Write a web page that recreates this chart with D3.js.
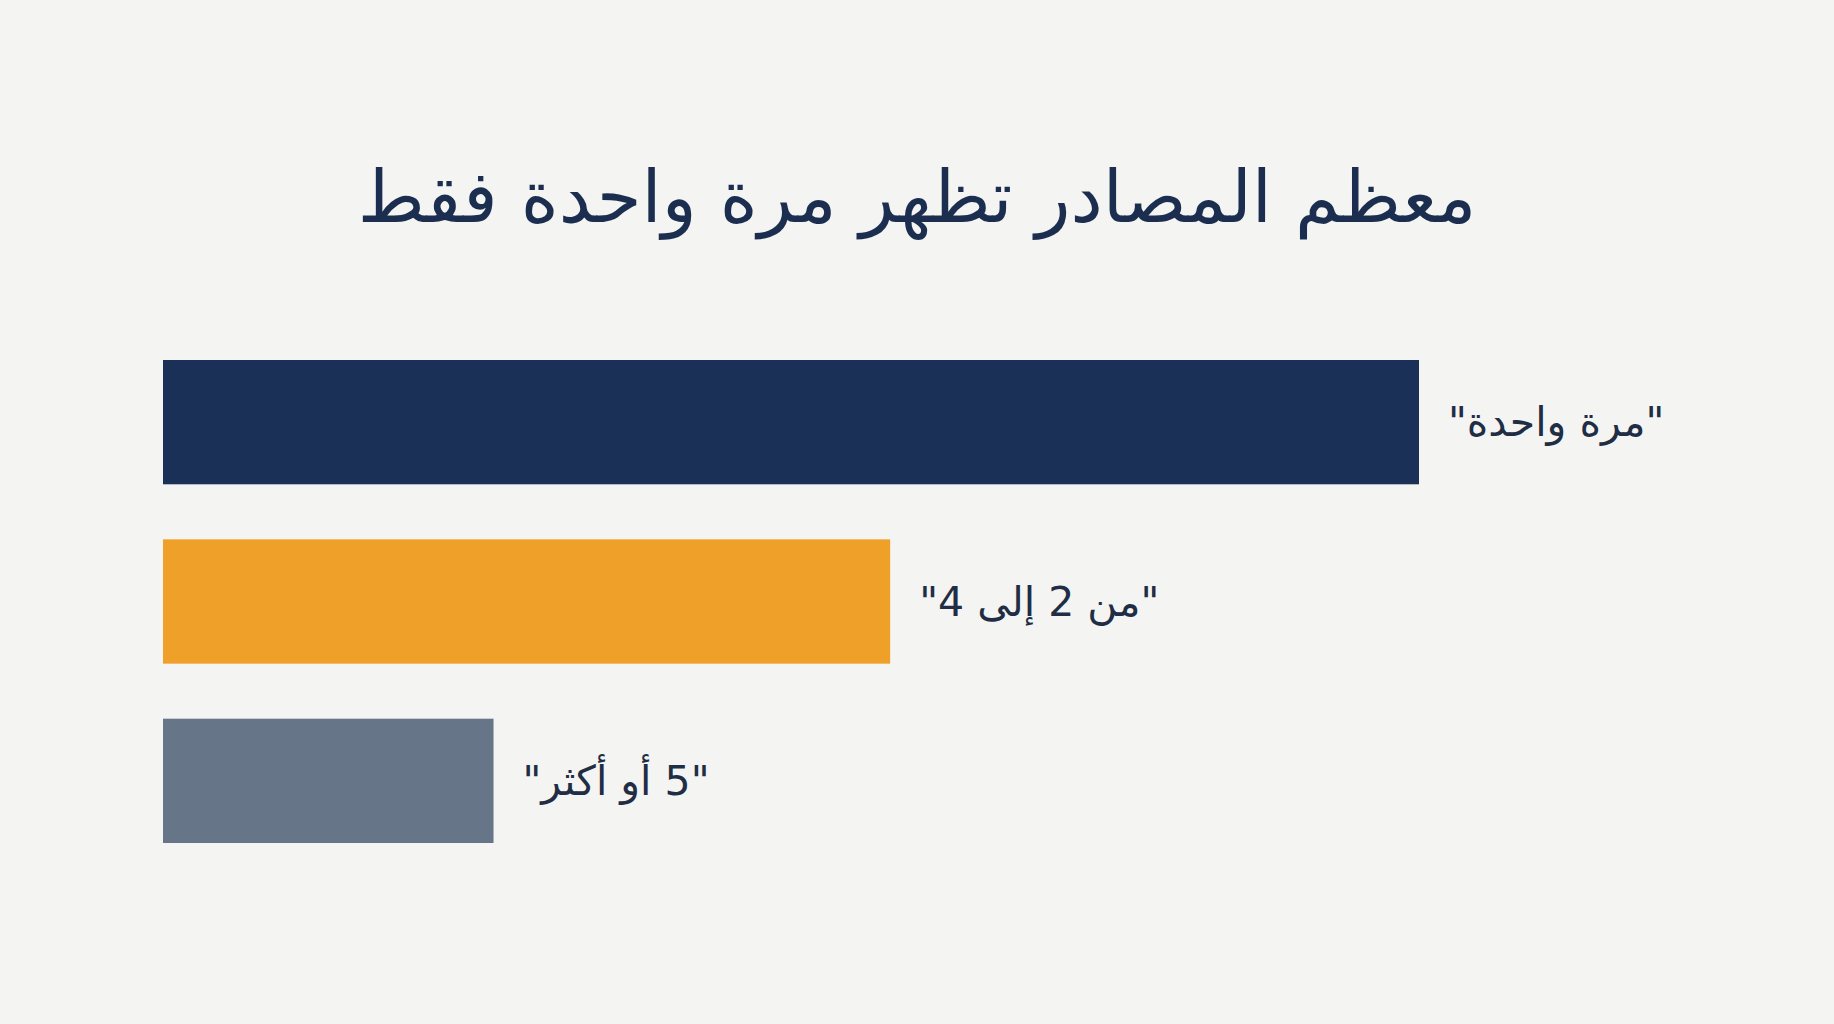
<!DOCTYPE html>
<html><head><meta charset="utf-8">
<script src="https://cdn.jsdelivr.net/npm/d3@7"></script>
<style>html,body{margin:0;padding:0;background:#f4f4f2;}svg{display:block;}</style>
</head><body>
<script>
const categories = ['"مرة واحدة"', '"من 2 إلى 4"', '"5 أو أكثر"'];
const values = [38, 22, 10];
const colors = ["#1b3057", "#eea028", "#667588"];
const titleText = "معظم المصادر تظهر مرة واحدة فقط";

const W = 1834, H = 1024;
const svg = d3.select("body").append("svg").attr("width", W).attr("height", H);
svg.append("rect").attr("width", W).attr("height", H).attr("fill", "#f4f4f2");

const x = d3.scaleLinear().domain([0, 38]).range([163, 1419]);
const y = d3.scaleBand().domain(categories).range([360, 843]).paddingInner(0.307).paddingOuter(0);

svg.selectAll("rect.bar").data(categories).join("rect").attr("class", "bar")
  .attr("x", x(0)).attr("y", d => y(d))
  .attr("width", (d, i) => x(values[i]) - x(0))
  .attr("height", y.bandwidth())
  .attr("fill", (d, i) => colors[i]);

const font = "'DejaVu Sans', 'Noto Sans', sans-serif";
const title = svg.append("text").attr("x", W / 2).attr("y", 222)
  .attr("text-anchor", "middle").attr("direction", "rtl")
  .attr("font-family", font).attr("font-size", 64).attr("fill", "#1c2e4f")
  .text(titleText);
const tw = title.node().getComputedTextLength();
title.attr("font-size", 64 * 1119 / tw);

svg.selectAll("text.lbl").data(categories).join("text").attr("class", "lbl")
  .attr("x", (d, i) => x(values[i]) + 29)
  .attr("y", d => y(d) + y.bandwidth() / 2)
  .attr("dy", "0.35em")
  .attr("direction", "rtl").attr("text-anchor", "end")
  .attr("font-family", font).attr("font-size", 41).attr("fill", "#1f2d45")
  .text(d => d);
</script>
</body></html>
